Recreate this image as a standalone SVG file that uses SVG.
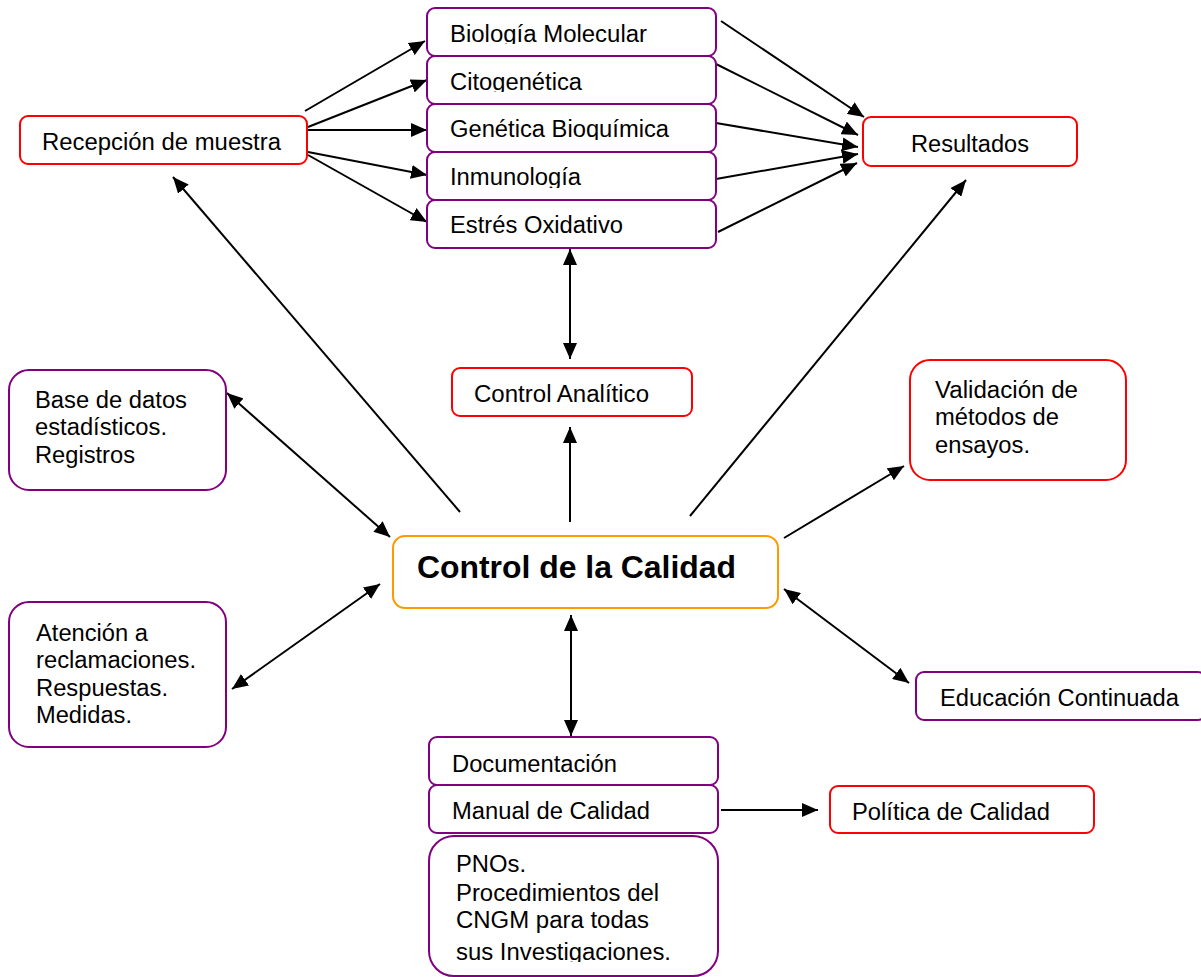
<svg xmlns="http://www.w3.org/2000/svg" width="1201" height="977" viewBox="0 0 1201 977">
  <style>
    .box { fill: #fff; stroke-width: 2; }
    .red { stroke: #ff0000; }
    .pur { stroke: #800080; }
    .org { stroke: #ff9900; }
    .t { font-family: "Liberation Sans", Arial, sans-serif; font-size: 23px; fill: #000; }
    .tb { font-family: "Liberation Sans", Arial, sans-serif; font-size: 31px; font-weight: bold; fill: #000; }
    .ln { stroke: #000; stroke-width: 2; fill: none; }
    .a { marker-end: url(#ah); }
    .aa { marker-start: url(#ah); marker-end: url(#ah); }
  </style>
  <defs>
    <marker id="ah" viewBox="0 0 16 14" refX="16" refY="7" markerWidth="16" markerHeight="14" markerUnits="userSpaceOnUse" orient="auto-start-reverse">
      <path d="M0,0 L16,7 L0,14 Z" fill="#000"/>
    </marker>
    <!-- text frames of the stacked area boxes cut the descenders -->
    <clipPath id="c1" clipPathUnits="userSpaceOnUse"><rect x="427" y="8" width="289" height="36"/></clipPath>
    <clipPath id="c2" clipPathUnits="userSpaceOnUse"><rect x="427" y="56" width="289" height="36"/></clipPath>
    <clipPath id="c3" clipPathUnits="userSpaceOnUse"><rect x="427" y="104" width="289" height="36"/></clipPath>
    <clipPath id="c4" clipPathUnits="userSpaceOnUse"><rect x="427" y="152" width="289" height="36"/></clipPath>
    <clipPath id="c5" clipPathUnits="userSpaceOnUse"><rect x="427" y="200" width="289" height="36"/></clipPath>
    <clipPath id="c6" clipPathUnits="userSpaceOnUse"><rect x="429" y="836" width="289" height="126"/></clipPath>
  </defs>

  <g id="connectors">
    <!-- reception fan-out -->
    <line class="ln a" x1="305" y1="111" x2="425" y2="41"/>
    <line class="ln a" x1="308" y1="127" x2="427" y2="80"/>
    <line class="ln a" x1="308" y1="130" x2="427" y2="130"/>
    <line class="ln a" x1="308" y1="152" x2="427" y2="175"/>
    <line class="ln a" x1="308" y1="155" x2="427" y2="222"/>
    <!-- areas to results -->
    <line class="ln a" x1="721" y1="21" x2="864" y2="117"/>
    <line class="ln a" x1="716" y1="64" x2="858" y2="135"/>
    <line class="ln a" x1="716" y1="123" x2="858" y2="147"/>
    <line class="ln a" x1="716" y1="179" x2="858" y2="154"/>
    <line class="ln a" x1="718" y1="232" x2="857" y2="163"/>
    <!-- analytical control -->
    <line class="ln aa" x1="570" y1="249" x2="570" y2="359"/>
    <line class="ln a" x1="570" y1="522" x2="570" y2="427"/>
    <!-- quality control hub -->
    <line class="ln a" x1="460" y1="512" x2="173" y2="177"/>
    <line class="ln aa" x1="227" y1="393" x2="390" y2="537"/>
    <line class="ln a" x1="690" y1="516" x2="966" y2="180"/>
    <line class="ln a" x1="784" y1="538" x2="904" y2="466"/>
    <line class="ln aa" x1="784" y1="589" x2="909" y2="683"/>
    <line class="ln aa" x1="380" y1="584" x2="232" y2="689"/>
    <line class="ln aa" x1="571" y1="615" x2="571" y2="736"/>
    <line class="ln a" x1="721" y1="810" x2="818" y2="810"/>
  </g>

  <g id="recepcion">
    <rect class="box red" x="20" y="116" width="287" height="48" rx="8"/>
    <text class="t" x="42" y="150" textLength="239" lengthAdjust="spacingAndGlyphs">Recepción de muestra</text>
  </g>

  <g id="biologia-molecular">
    <rect class="box pur" x="427" y="8" width="289" height="48" rx="8"/>
    <text class="t" x="450" y="42" textLength="197" lengthAdjust="spacingAndGlyphs" clip-path="url(#c1)">Biología Molecular</text>
  </g>
  <g id="citogenetica">
    <rect class="box pur" x="427" y="56" width="289" height="48" rx="8"/>
    <text class="t" x="450" y="90" textLength="132" lengthAdjust="spacingAndGlyphs" clip-path="url(#c2)">Citogenética</text>
  </g>
  <g id="genetica-bioquimica">
    <rect class="box pur" x="427" y="104" width="289" height="48" rx="8"/>
    <text class="t" x="450" y="137" textLength="219" lengthAdjust="spacingAndGlyphs" clip-path="url(#c3)">Genética Bioquímica</text>
  </g>
  <g id="inmunologia">
    <rect class="box pur" x="427" y="152" width="289" height="48" rx="8"/>
    <text class="t" x="450" y="185" textLength="131" lengthAdjust="spacingAndGlyphs" clip-path="url(#c4)">Inmunología</text>
  </g>
  <g id="estres-oxidativo">
    <rect class="box pur" x="427" y="200" width="289" height="48" rx="8"/>
    <text class="t" x="450" y="233" textLength="173" lengthAdjust="spacingAndGlyphs" clip-path="url(#c5)">Estrés Oxidativo</text>
  </g>

  <g id="resultados">
    <rect class="box red" x="863" y="117" width="214" height="49" rx="8"/>
    <text class="t" x="911" y="152" textLength="118" lengthAdjust="spacingAndGlyphs">Resultados</text>
  </g>

  <g id="control-analitico">
    <rect class="box red" x="452" y="368" width="240" height="48" rx="8"/>
    <text class="t" x="474" y="402" textLength="175" lengthAdjust="spacingAndGlyphs">Control Analítico</text>
  </g>

  <g id="base-datos">
    <rect class="box pur" x="9" y="370" width="217" height="120" rx="20"/>
    <text class="t" x="35" y="408" textLength="152" lengthAdjust="spacingAndGlyphs">Base de datos</text>
    <text class="t" x="35" y="435" textLength="132" lengthAdjust="spacingAndGlyphs">estadísticos.</text>
    <text class="t" x="35" y="463" textLength="100" lengthAdjust="spacingAndGlyphs">Registros</text>
  </g>

  <g id="validacion">
    <rect class="box red" x="910" y="360" width="216" height="120" rx="20"/>
    <text class="t" x="935" y="398" textLength="143" lengthAdjust="spacingAndGlyphs">Validación de</text>
    <text class="t" x="935" y="425" textLength="124" lengthAdjust="spacingAndGlyphs">métodos de</text>
    <text class="t" x="935" y="453" textLength="95" lengthAdjust="spacingAndGlyphs">ensayos.</text>
  </g>

  <g id="control-calidad">
    <rect class="box org" x="393" y="536" width="385" height="72" rx="12"/>
    <text class="tb" x="417" y="578" textLength="319" lengthAdjust="spacingAndGlyphs">Control de la Calidad</text>
  </g>

  <g id="atencion">
    <rect class="box pur" x="9" y="602" width="217" height="145" rx="20"/>
    <text class="t" x="36" y="641" textLength="112" lengthAdjust="spacingAndGlyphs">Atención a</text>
    <text class="t" x="36" y="668" textLength="160" lengthAdjust="spacingAndGlyphs">reclamaciones.</text>
    <text class="t" x="36" y="696" textLength="132" lengthAdjust="spacingAndGlyphs">Respuestas.</text>
    <text class="t" x="36" y="723" textLength="96" lengthAdjust="spacingAndGlyphs">Medidas.</text>
  </g>

  <g id="educacion">
    <rect class="box pur" x="916" y="672" width="290" height="48" rx="8"/>
    <text class="t" x="940" y="706" textLength="239" lengthAdjust="spacingAndGlyphs">Educación Continuada</text>
  </g>

  <g id="documentacion">
    <rect class="box pur" x="429" y="737" width="289" height="48" rx="8"/>
    <text class="t" x="452" y="772" textLength="165" lengthAdjust="spacingAndGlyphs">Documentación</text>
  </g>
  <g id="manual-calidad">
    <rect class="box pur" x="429" y="785" width="289" height="48" rx="8"/>
    <text class="t" x="452" y="819" textLength="198" lengthAdjust="spacingAndGlyphs">Manual de Calidad</text>
  </g>
  <g id="pnos">
    <rect class="box pur" x="429" y="836" width="289" height="140" rx="25"/>
    <g clip-path="url(#c6)">
      <text class="t" x="456" y="872" textLength="70" lengthAdjust="spacingAndGlyphs">PNOs.</text>
      <text class="t" x="456" y="901" textLength="203" lengthAdjust="spacingAndGlyphs">Procedimientos del</text>
      <text class="t" x="456" y="928" textLength="193" lengthAdjust="spacingAndGlyphs">CNGM para todas</text>
      <text class="t" x="456" y="960" textLength="215" lengthAdjust="spacingAndGlyphs">sus Investigaciones.</text>
    </g>
  </g>

  <g id="politica-calidad">
    <rect class="box red" x="830" y="786" width="264" height="47" rx="8"/>
    <text class="t" x="852" y="820" textLength="198" lengthAdjust="spacingAndGlyphs">Política de Calidad</text>
  </g>
</svg>
